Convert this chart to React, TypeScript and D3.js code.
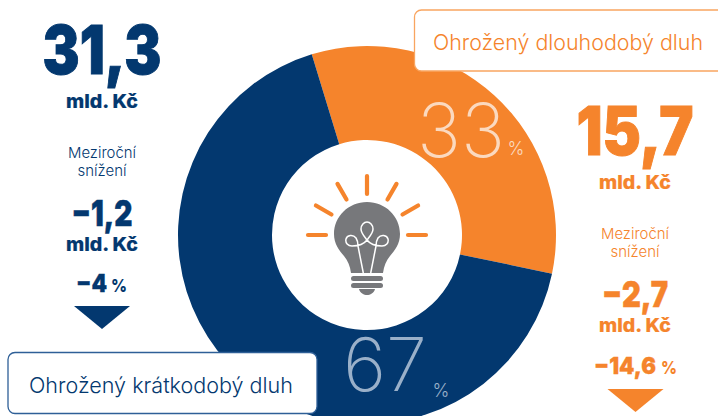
import React from "react";
import * as d3 from "d3";

const NAVY = "#03386f";
const ORANGE = "#f5842c";
const GRAY = "#77787b";

const shares = [33, 67];
const shareColors = [ORANGE, NAVY];
const shareLabels = ["33", "67"];
const labelPositions: [number, number, string, number, number][] = [
  [461, 157, "#fbd9bf", 516, 155],
  [385, 391, "#9ab0c9", 441, 397],
];
const rayAngles = [-90, -60, -30, 0, 30, 60, 90];

const W = 718, H = 416, CX = 367, CY = 235, R = 189, r = 95;
const START = (-17 * Math.PI) / 180;

const FONT = "Inter, sans-serif";

function Txt({ x, y, s, c, w = 400, t, len, bold = 0, anchor = "middle" }: any) {
  return (
    <text x={x} y={y} fontSize={s} fill={c} stroke={bold ? c : undefined} strokeWidth={bold || undefined} fontWeight={w} fontFamily={FONT} textAnchor={anchor}
      textLength={len} lengthAdjust={len ? "spacingAndGlyphs" : undefined}>
      {t}
    </text>
  );
}

function Col({ cx, c, big, bigY, bigLen, d, dLen }: any) {
  return (
    <g>
      <Txt x={cx} y={bigY} s={67} c={c} w={900} t={big} len={bigLen} bold={1} />
      <Txt x={cx} y={bigY + 33.5} s={19} c={c} w={800} t="mld. Kč" len={72} bold={0.2} />
      <Txt x={cx} y={bigY + 84} s={15} c={c} w={300} t="Meziroční" len={68} />
      <Txt x={cx} y={bigY + 102} s={15} c={c} w={300} t="snížení" len={49} />
      <Txt x={cx} y={bigY + 152} s={35} c={c} w={900} t={d} len={dLen} bold={0.5} />
      <Txt x={cx} y={bigY + 177} s={19} c={c} w={800} t="mld. Kč" len={72} bold={0.2} />
    </g>
  );
}

export default function App() {
  const pie = d3.pie<number>().sort(null).startAngle(START).endAngle(START + 2 * Math.PI);
  const arc = d3.arc<d3.PieArcDatum<number>>().innerRadius(r).outerRadius(R);
  const arcs = pie(shares);
  const tri = (cx: number, y: number) => `M${cx - 28},${y}L${cx + 28},${y}L${cx},${y + 23}Z`;

  return (
    <svg width={W} height={H} style={{ position: "absolute", left: 0, top: 0, background: "#fff" }}>
      <g transform={`translate(${CX},${CY})`}>
        {arcs.map((a, i) => (
          <path key={i} d={arc(a) as string} fill={shareColors[i]} />
        ))}
      </g>

      {shareLabels.map((l, i) => {
        const [x, y, c, px, py] = labelPositions[i];
        return (
          <g key={l}>
            <Txt x={x} y={y} s={74} c={c} w={250} t={l} />
            <Txt x={px} y={py} s={18} c={c} w={300} t="%" />
          </g>
        );
      })}

      {/* light bulb icon */}
      <g transform={`translate(${CX},${CY})`}>
        {rayAngles.map((a) => {
          const t = (a * Math.PI) / 180;
          return (
            <line key={a} x1={41 * Math.sin(t)} y1={-41 * Math.cos(t)} x2={59 * Math.sin(t)} y2={-59 * Math.cos(t)}
              stroke={ORANGE} strokeWidth={4.2} strokeLinecap="round" />
          );
        })}
        <path fill={GRAY} d="M0,-33 C18.5,-33 33,-18.5 33,-1 C33,9 28,15 23,21 C19,26 17,31 16,38 L-16,38 C-17,31 -19,26 -23,21 C-28,15 -33,9 -33,-1 C-33,-18.5 -18.5,-33 0,-33Z" />
        <rect x={-16} y={41} width={32} height={5} rx={2.5} fill={GRAY} />
        <rect x={-16} y={48} width={32} height={5} rx={2.5} fill={GRAY} />
        <path d="M-8,54 L8,54 C7,58 3,60 0,60 C-3,60 -7,58 -8,54Z" fill={GRAY} />
        <path fill="none" stroke="#fff" strokeWidth={1.5} strokeLinejoin="round"
          d="M-3.7,38 L-9,11 M3.7,38 L9,11
             M0,5 C-3,9 -7,11 -15,11 C-19,11 -22,8 -21,4 C-20,0 -14,-1 -11,3 C-9,6 -9,9 -9,11
             M0,5 C-3,1 -6,-2 -6,-6 C-6,-10 -3,-13 0,-13 C3,-13 6,-10 6,-6 C6,-2 3,1 0,5
             M0,5 C3,9 7,11 15,11 C19,11 22,8 21,4 C20,0 14,-1 11,3 C9,6 9,9 9,11" />
      </g>

      <Col cx={102} c={NAVY} big="31,3" bigY={74} bigLen={119} d="−1,2" dLen={61} />
      <Txt x={76} y={292} s={24} c={NAVY} w={900} t="−4" anchor="start" len={31} bold={0.3} />
      <Txt x={111} y={292} s={18} c={NAVY} w={800} t="%" anchor="start" len={16} />
      <path d={tri(102, 306)} fill={NAVY} />

      <Col cx={635} c={ORANGE} big="15,7" bigY={155} bigLen={117} d="−2,7" dLen={66} />
      <Txt x={594} y={374} s={23} c={ORANGE} w={900} t="−14,6" anchor="start" len={62} bold={0.3} />
      <Txt x={661} y={374} s={18} c={ORANGE} w={800} t="%" anchor="start" len={16} />
      <path d={tri(635.5, 389)} fill={ORANGE} />

      <rect x={414.5} y={10} width={320} height={61} rx={7} fill="#fff" stroke="#f9a560" strokeWidth={1.3} />
      <text x={433} y={50} fontSize={22} fill={ORANGE} fontFamily={FONT} fontWeight={300} textLength={270} lengthAdjust="spacingAndGlyphs">Ohrožený dlouhodobý dluh</text>

      <rect x={8} y={352.5} width={309} height={61} rx={7} fill="#fff" stroke="#2e5f97" strokeWidth={1.3} />
      <text x={29} y={393} fontSize={22} fill={NAVY} fontFamily={FONT} fontWeight={300} textLength={264} lengthAdjust="spacingAndGlyphs">Ohrožený krátkodobý dluh</text>
    </svg>
  );
}
